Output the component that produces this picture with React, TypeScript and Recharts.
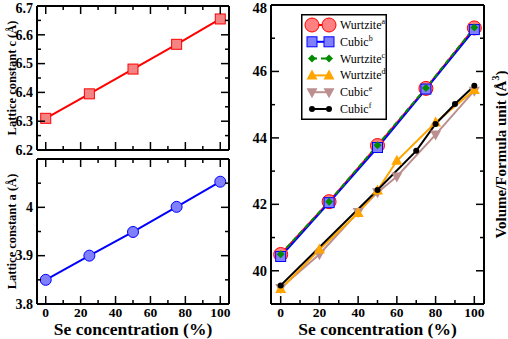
import React from "react";
import { Label, Legend, Line, LineChart, XAxis, YAxis } from "recharts";

const W = 508;
const H = 339;
const SERIF = '"Liberation Serif", "Times New Roman", Times, serif';

// Se concentration (%) of the computed alloys
const seConc = [0, 25, 50, 75, 100];
const latticeC = [6.31, 6.395, 6.481, 6.567, 6.655];
const latticeA = [3.85, 3.9, 3.949, 4.001, 4.053];

// volume per formula unit (A^3), one pair of arrays per source
const volWurtziteA = [40.49, 42.08, 43.77, 45.49, 47.31];
const volCubicB = [40.43, 42.05, 43.71, 45.47, 47.26];
const volWurtziteC = [40.5, 42.08, 43.78, 45.5, 47.32];
const concWurtziteD = [0, 20, 40, 50, 60, 80, 100];
const volWurtziteD = [39.45, 40.64, 41.74, 42.42, 43.31, 44.46, 45.44];
const concCubicE = [0, 20, 40, 50, 60, 80, 100];
const volCubicE = [39.48, 40.5, 41.77, 42.36, 42.84, 44.1, 45.42];
const concCubicF = [0, 50, 70, 80, 90, 100];
const volCubicF = [39.56, 42.43, 43.61, 44.42, 45.02, 45.57];

const legendNames = ["Wurtzite", "Cubic", "Wurtzite", "Wurtzite", "Cubic", "Cubic"];
const legendRefs = ["a", "b", "c", "d", "e", "f"];

const concTicks = [0, 10, 20, 30, 40, 50, 60, 70, 80, 90, 100];
const concMajor = [0, 20, 40, 60, 80, 100];
const cTicks = [6.2, 6.25, 6.3, 6.35, 6.4, 6.45, 6.5, 6.55, 6.6, 6.65, 6.7];
const cMajor = [6.2, 6.3, 6.4, 6.5, 6.6, 6.7];
const aTicks = [3.8, 3.85, 3.9, 3.95, 4, 4.05, 4.1];
const aMajor = [3.8, 3.9, 4, 4.1];
const aLabels = [3.8, 3.9, 4];
const volTicks = [39, 40, 41, 42, 43, 44, 45, 46, 47, 48];
const volMajor = [40, 42, 44, 46, 48];

const zip = (xs: number[], ys: number[]) => xs.map((x, i) => ({ x, y: ys[i] }));

const cData = zip(seConc, latticeC);
const aData = zip(seConc, latticeA);
const volSeries = [
  { data: zip(seConc, volWurtziteA), stroke: "#ff0000", shape: "bigCircle" },
  { data: zip(seConc, volCubicB), stroke: "#0000ff", shape: "square" },
  { data: zip(seConc, volWurtziteC), stroke: "#008b00", shape: "diamond", dash: "5 4" },
  { data: zip(concWurtziteD, volWurtziteD), stroke: "#ffa500", shape: "triUp" },
  { data: zip(concCubicE, volCubicE), stroke: "#bc8f8f", shape: "triDown" },
  { data: zip(concCubicF, volCubicF), stroke: "#000000", shape: "dot" },
];
// drawing order: brown under orange under black, red under blue under green
const drawOrder = [0, 1, 2, 4, 3, 5];

function marker(shape: string, cx: number, cy: number, key?: string) {
  switch (shape) {
    case "bigCircle":
      return <circle key={key} cx={cx} cy={cy} r={7} fill="#ff8080" stroke="#ff0000" strokeWidth={1} />;
    case "square":
      return <rect key={key} x={cx - 5} y={cy - 5} width={10} height={10} fill="#8080ff" stroke="#0000ff" strokeWidth={1} />;
    case "diamond":
      return <polygon key={key} points={`${cx},${cy - 4} ${cx + 4},${cy} ${cx},${cy + 4} ${cx - 4},${cy}`} fill="#008b00" />;
    case "triUp":
      return <polygon key={key} points={`${cx},${cy - 6} ${cx + 5.5},${cy + 4} ${cx - 5.5},${cy + 4}`} fill="#ffa500" />;
    case "triDown":
      return <polygon key={key} points={`${cx},${cy + 6} ${cx + 5.5},${cy - 4} ${cx - 5.5},${cy - 4}`} fill="#bc8f8f" />;
    case "dot":
      return <circle key={key} cx={cx} cy={cy} r={3} fill="#000" />;
    case "pinkSquare":
      return <rect key={key} x={cx - 5} y={cy - 5} width={10} height={10} fill="#f48484" stroke="#ff0000" strokeWidth={1} />;
    case "blueCircle":
      return <circle key={key} cx={cx} cy={cy} r={5.5} fill="#8080ff" stroke="#0000ff" strokeWidth={1} />;
    default:
      return null;
  }
}

type Side = "bottom" | "top" | "left" | "right";
const near = (list: number[], v: number) => list.some((m) => Math.abs(m - v) < 1e-6);

// inward tick marks (long on major values), labels only where asked
function edgeTicks(side: Side, major: number[], labels: number[] = [], fontSize = 15) {
  return (props: any) => {
    const { x, y, payload } = props;
    const v = payload.value;
    const len = near(major, v) ? 8 : 4;
    const dx = side === "left" ? len : side === "right" ? -len : 0;
    const dy = side === "bottom" ? -len : side === "top" ? len : 0;
    const show = near(labels, v);
    return (
      <g>
        <line x1={x} y1={y} x2={x + dx} y2={y + dy} stroke="#000" strokeWidth={1.5} />
        {show && side === "bottom" && (
          <text x={x} y={y + 13} textAnchor="middle" fontFamily={SERIF} fontWeight="bold" fontSize={13.5} fill="#000">
            {v}
          </text>
        )}
        {show && side === "left" && (
          <text x={x - 4} y={Math.max(y + fontSize * 0.34, 13.2)} textAnchor="end" fontFamily={SERIF} fontWeight="bold"
            fontSize={fontSize} fill="#000">
            {v}
          </text>
        )}
      </g>
    );
  };
}

const frameLine = { stroke: "#000", strokeWidth: 2 };

function frameAxes(
  xTicks: number[],
  xMajor: number[],
  xLabels: number[],
  yDomain: [number, number],
  yTicks: number[],
  yMajor: number[],
  yLabels: number[],
  xLabel: React.ReactNode,
  yLabel: React.ReactNode,
  tickFont: number,
) {
  return [
    <XAxis key="xb" dataKey="x" type="number" domain={[-5, 105]} ticks={xTicks} interval={0} height={1}
      tickSize={0} tickMargin={0} tickLine={false} axisLine={frameLine} tick={edgeTicks("bottom", xMajor, xLabels, tickFont)}>
      {xLabel}
    </XAxis>,
    <XAxis key="xt" xAxisId="top" orientation="top" dataKey="x" type="number" domain={[-5, 105]} ticks={xTicks} interval={0}
      height={1} tickSize={0} tickMargin={0} tickLine={false} axisLine={frameLine} tick={edgeTicks("top", xMajor)} />,
    <YAxis key="yl" type="number" domain={yDomain} allowDataOverflow ticks={yTicks} interval={0} width={1}
      tickSize={0} tickMargin={0} tickLine={false} axisLine={frameLine} tick={edgeTicks("left", yMajor, yLabels, tickFont)}>
      {yLabel}
    </YAxis>,
    <YAxis key="yr" yAxisId="right" orientation="right" type="number" domain={yDomain} allowDataOverflow ticks={yTicks}
      interval={0} width={1} tickSize={0} tickMargin={0} tickLine={false} axisLine={frameLine} tick={edgeTicks("right", yMajor)} />,
  ];
}

const bottomTitle = (
  <Label
    content={(p: any) => {
      const vb = p.viewBox;
      return (
        <text x={vb.x + vb.width / 2} y={vb.y + 31.3} textAnchor="middle" fontFamily={SERIF} fontWeight="bold" fontSize={17.5} fill="#000">
          Se concentration (%)
        </text>
      );
    }}
  />
);

function sideTitle(text: React.ReactNode, shift: number, size: number) {
  return (
    <Label
      content={(p: any) => {
        const vb = p.viewBox;
        const cx = vb.x + shift;
        const cy = vb.y + vb.height / 2;
        return (
          <text x={cx} y={cy} transform={`rotate(-90 ${cx} ${cy})`} textAnchor="middle" fontFamily={SERIF}
            fontWeight="bold" fontSize={size} fill="#000">
            {text}
          </text>
        );
      }}
    />
  );
}

const renderLegend = () => (
  <svg width={86} height={106} style={{ display: "block" }}>
    <rect x={0.75} y={0.75} width={84.5} height={104.5} fill="#fff" stroke="#000" strokeWidth={1.5} />
    {legendNames.map((name, i) => {
      const cy = 11 + i * 16.8;
      const s = volSeries[i];
      return (
        <g key={i}>
          <line x1={11} y1={cy} x2={28} y2={cy} stroke={s.stroke} strokeWidth={2} strokeDasharray={s.dash} />
          {marker(s.shape, 11, cy)}
          {marker(s.shape, 28, cy)}
          <text x={39} y={cy + 4} fontFamily={SERIF} fontSize={12} fill="#000">
            {name}
            <tspan dy={-5} fontSize={8}>{legendRefs[i]}</tspan>
          </text>
        </g>
      );
    })}
  </svg>
);

const layer: React.CSSProperties = { position: "absolute", left: 0, top: 0 };

export default function App() {
  return (
    <div style={{ position: "absolute", left: 0, top: 0, width: W, height: H, background: "#fff", overflow: "hidden" }}>
      <div style={layer}>
        <LineChart width={W} height={H} data={cData} margin={{ top: 5, left: 36, right: 278, bottom: 188 }}>
          {frameAxes(concTicks, concMajor, [], [6.2, 6.7], cTicks, cMajor, cMajor, null,
            sideTitle("Lattice constant c (Å)", -20, 12.5), 14)}
          <Line dataKey="y" stroke="#ff0000" strokeWidth={2} isAnimationActive={false}
            dot={(p: any) => marker("pinkSquare", p.cx, p.cy, `c${p.index}`)} />
        </LineChart>
      </div>
      <div style={layer}>
        <LineChart width={W} height={H} data={aData} margin={{ top: 158, left: 36, right: 278, bottom: 34 }}>
          {frameAxes(concTicks, concMajor, concMajor, [3.8, 4.1], aTicks, aMajor, aLabels, bottomTitle,
            sideTitle("Lattice constant a (Å)", -20, 12.5), 14)}
          <Line dataKey="y" stroke="#0000ff" strokeWidth={2} isAnimationActive={false}
            dot={(p: any) => marker("blueCircle", p.cx, p.cy, `a${p.index}`)} />
        </LineChart>
      </div>
      <div style={layer}>
        <LineChart width={W} height={H} margin={{ top: 4, left: 270, right: 22, bottom: 34 }}>
          {frameAxes(concTicks, concMajor, concMajor, [39, 48], volTicks, volMajor, volMajor, bottomTitle, null, 14.5)}
          <YAxis yAxisId="title" orientation="right" type="number" domain={[39, 48]} width={1} tick={false}
            tickLine={false} axisLine={false}>
            {sideTitle(
              <>
                Volume/Formula unit (Å<tspan dy={-7} fontSize={10}>3</tspan>
                <tspan dy={7}>)</tspan>
              </>,
              21,
              15,
            )}
          </YAxis>
          {drawOrder.map((i) => {
            const s = volSeries[i];
            return (
              <Line key={i} data={s.data} dataKey="y" stroke={s.stroke} strokeWidth={2} strokeDasharray={s.dash}
                isAnimationActive={false} dot={(p: any) => marker(s.shape, p.cx, p.cy, `v${i}-${p.index}`)} />
            );
          })}
          <Legend layout="vertical" align="center" verticalAlign="middle" content={renderLegend}
            wrapperStyle={{ left: 301, top: 14, width: 86, height: 106 }} />
        </LineChart>
      </div>
    </div>
  );
}
